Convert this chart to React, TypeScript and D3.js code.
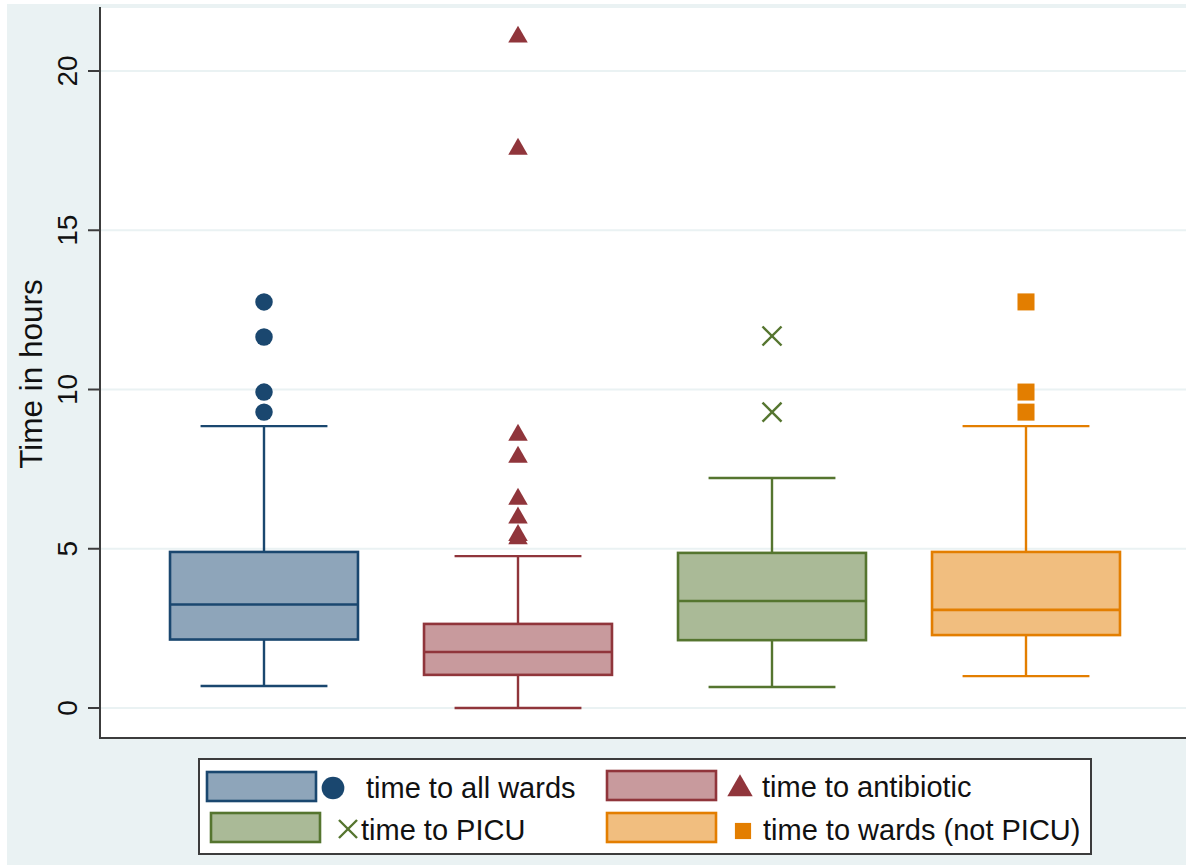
import React from "react";
import * as d3 from "d3";

const categories = ["time to all wards", "time to antibiotic", "time to PICU", "time to wards (not PICU)"];
const q1 = [2.15, 1.04, 2.13, 2.29];
const median = [3.25, 1.76, 3.36, 3.08];
const q3 = [4.9, 2.64, 4.87, 4.9];
const whiskerLow = [0.69, 0, 0.66, 1.0];
const whiskerHigh = [8.85, 4.77, 7.22, 8.85];
const outliersAllWards = [12.75, 11.65, 9.92, 9.29];
const outliersAntibiotic = [21.07, 17.55, 8.57, 7.88, 6.56, 5.97, 5.42, 5.32];
const outliersPICU = [11.68, 9.29];
const outliersWardsNotPICU = [12.75, 9.92, 9.29];
const yTicks = [0, 5, 10, 15, 20];

const outliers = [outliersAllWards, outliersAntibiotic, outliersPICU, outliersWardsNotPICU];
const lineColors = ["#1a476f", "#90353b", "#55752f", "#e37e00"];
const fillColors = ["#8ea5ba", "#c89a9d", "#aaba97", "#f1be7f"];
const markerTypes = ["circle", "triangle", "x", "square"];

const W = 1186;
const H = 865;
const plotLeft = 100;
const plotTop = 7;
const plotBottom = 738;
const plotRight = 1186;
const font = "'Liberation Sans', Arial, sans-serif";

function Marker({ type, x, y, color, scale = 1 }: { type: string; x: number; y: number; color: string; scale?: number }) {
  if (type === "x") {
    const r = 9.5 * scale;
    return (
      <g stroke={color} strokeWidth={2.4}>
        <line x1={x - r} y1={y - r} x2={x + r} y2={y + r} />
        <line x1={x - r} y1={y + r} x2={x + r} y2={y - r} />
      </g>
    );
  }
  let sym: d3.SymbolType = d3.symbolCircle;
  let size = 240;
  if (type === "triangle") {
    sym = d3.symbolTriangle;
    size = 165;
  } else if (type === "square") {
    sym = d3.symbolSquare;
    size = 290;
  }
  const p = d3.symbol().type(sym).size(size * scale * scale)() || "";
  return <path d={p} transform={`translate(${x},${y})`} fill={color} />;
}

export default function App() {
  const y = d3.scaleLinear().domain([-0.942, 22.01]).range([plotBottom, plotTop]);
  const x = d3.scaleBand<string>().domain(categories).range([137, 1153]).padding(0);
  const bw = x.bandwidth();
  const boxW = bw * 0.74;
  const capW = boxW * 0.675;

  const legendItems = [
    { i: 0, boxX: 207, boxY: 772, markerX: 333, markerY: 788, textX: 366, textY: 798, mScale: 1.3 },
    { i: 1, boxX: 607, boxY: 771, markerX: 740, markerY: 789, textX: 762, textY: 797, mScale: 1.3 },
    { i: 2, boxX: 211, boxY: 813, markerX: 348, markerY: 829, textX: 361, textY: 840, mScale: 0.95 },
    { i: 3, boxX: 607, boxY: 813, markerX: 743, markerY: 831, textX: 763, textY: 840, mScale: 0.95 },
  ];

  return (
    <svg width={W} height={H} style={{ position: "absolute", left: 0, top: 0, display: "block" }} fontFamily={font}>
      <rect x={0} y={0} width={W} height={H} fill="#ffffff" />
      <rect x={7} y={4} width={W - 7} height={H - 4} fill="#eaf2f3" />
      <rect x={plotLeft} y={plotTop} width={plotRight - plotLeft} height={plotBottom - plotTop} fill="#ffffff" />
      <line x1={plotLeft} x2={plotRight} y1={plotTop} y2={plotTop} stroke="#eaf2f3" strokeWidth={2} />
      {yTicks.map((t) => (
        <line key={"g" + t} x1={plotLeft} x2={plotRight} y1={y(t)} y2={y(t)} stroke="#eaf2f3" strokeWidth={2} />
      ))}
      {categories.map((c, i) => {
        const cx = (x(c) || 0) + bw / 2;
        const col = lineColors[i];
        return (
          <g key={c}>
            <line x1={cx} x2={cx} y1={y(q3[i])} y2={y(whiskerHigh[i])} stroke={col} strokeWidth={2.4} />
            <line x1={cx} x2={cx} y1={y(q1[i])} y2={y(whiskerLow[i])} stroke={col} strokeWidth={2.4} />
            <line x1={cx - capW / 2} x2={cx + capW / 2} y1={y(whiskerHigh[i])} y2={y(whiskerHigh[i])} stroke={col} strokeWidth={2.4} />
            <line x1={cx - capW / 2} x2={cx + capW / 2} y1={y(whiskerLow[i])} y2={y(whiskerLow[i])} stroke={col} strokeWidth={2.4} />
            <rect x={cx - boxW / 2} y={y(q3[i])} width={boxW} height={y(q1[i]) - y(q3[i])} fill={fillColors[i]} stroke={col} strokeWidth={2.6} />
            <line x1={cx - boxW / 2} x2={cx + boxW / 2} y1={y(median[i])} y2={y(median[i])} stroke={col} strokeWidth={2.6} />
            {outliers[i].map((v, k) => (
              <Marker key={k} type={markerTypes[i]} x={cx} y={y(v)} color={col} />
            ))}
          </g>
        );
      })}
      {/* axes */}
      <line x1={plotLeft} x2={plotLeft} y1={plotTop} y2={plotBottom + 1} stroke="#3c3c3c" strokeWidth={2} />
      <line x1={plotLeft - 1} x2={plotRight} y1={plotBottom} y2={plotBottom} stroke="#3c3c3c" strokeWidth={2} />
      {yTicks.map((t) => (
        <g key={"t" + t}>
          <line x1={plotLeft - 12} x2={plotLeft} y1={y(t)} y2={y(t)} stroke="#3c3c3c" strokeWidth={2} />
          <text transform={`translate(77,${y(t)}) rotate(-90)`} textAnchor="middle" fontSize={28} fill="#111">
            {t}
          </text>
        </g>
      ))}
      <text transform={`translate(42,${(278 + 470) / 2}) rotate(-90)`} textAnchor="middle" fontSize={31.5} fill="#111">
        Time in hours
      </text>
      {/* legend */}
      <rect x={199} y={759} width={892} height={95} fill="#ffffff" stroke="#3c3c3c" strokeWidth={2} />
      {legendItems.map((it) => (
        <g key={"l" + it.i}>
          <rect x={it.boxX} y={it.boxY} width={109} height={29} fill={fillColors[it.i]} stroke={lineColors[it.i]} strokeWidth={2.6} />
          <Marker type={markerTypes[it.i]} x={it.markerX} y={it.markerY} color={lineColors[it.i]} scale={it.mScale} />
          <text x={it.textX} y={it.textY} fontSize={29} fill="#111">
            {categories[it.i]}
          </text>
        </g>
      ))}
    </svg>
  );
}
